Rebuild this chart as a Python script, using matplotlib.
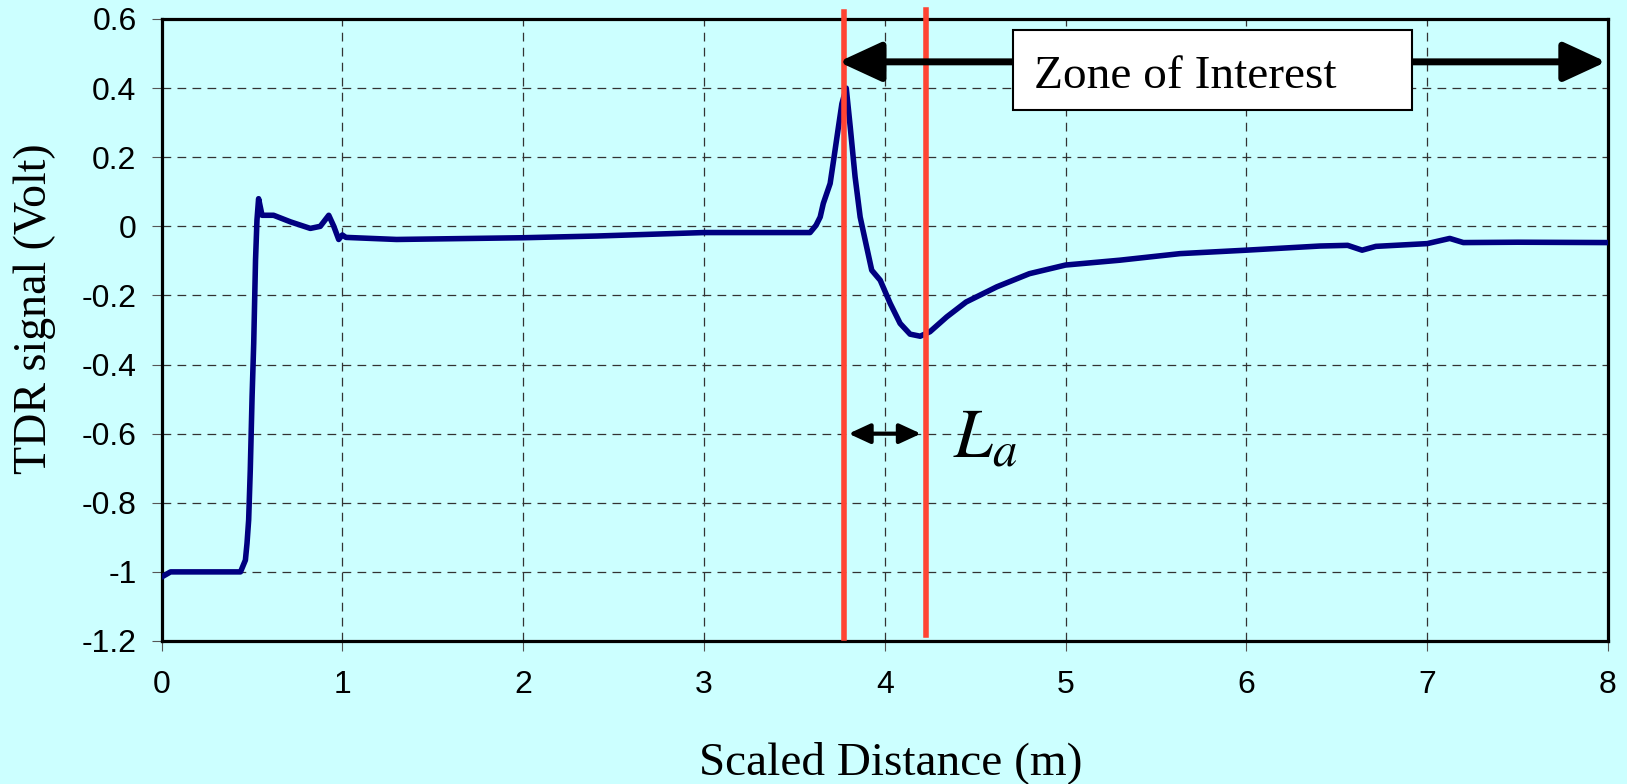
"""
TDR signal along the scaled distance, with the zone of interest marked
"""

import matplotlib
matplotlib.use("Agg")
import matplotlib.pyplot as plt
from matplotlib.patches import Rectangle

# Data
distance = [0.0, 0.05, 0.2, 0.3, 0.437, 0.464, 0.473, 0.482, 0.491, 0.501,
            0.51, 0.52, 0.528, 0.537, 0.556, 0.62, 0.713, 0.823, 0.878, 0.925,
            0.953, 0.98, 1.0, 1.02, 1.3, 2.0, 2.41, 3.0, 3.33, 3.587,
            3.62, 3.643, 3.66, 3.698, 3.717, 3.744, 3.763, 3.787, 3.809, 3.836,
            3.864, 3.90, 3.928, 3.975, 4.03, 4.085, 4.14, 4.196, 4.25, 4.343,
            4.45, 4.62, 4.80, 5.0, 5.30, 5.633, 6.0, 6.407, 6.56, 6.60,
            6.64, 6.716, 7.0, 7.125, 7.20, 7.5, 8.0]
signal = [-1.015, -1.0, -1.0, -1.0, -1.0, -0.966, -0.917, -0.85, -0.705, -0.493,
          -0.339, -0.098, 0.018, 0.08, 0.032, 0.032, 0.013, -0.006, 0.0, 0.032,
          0.0, -0.038, -0.025, -0.032, -0.038, -0.033, -0.028, -0.018, -0.018, -0.018,
          0.003, 0.027, 0.066, 0.124, 0.191, 0.288, 0.355, 0.40, 0.288, 0.143,
          0.027, -0.06, -0.127, -0.156, -0.223, -0.281, -0.312, -0.318, -0.305, -0.262,
          -0.219, -0.175, -0.137, -0.112, -0.098, -0.079, -0.069, -0.057, -0.055, -0.062,
          -0.069, -0.058, -0.05, -0.035, -0.047, -0.046, -0.047]

x_ticks = [0, 1, 2, 3, 4, 5, 6, 7, 8]
y_ticks = [-1.2, -1.0, -0.8, -0.6, -0.4, -0.2, 0.0, 0.2, 0.4, 0.6]
y_tick_labels = ['-1.2', '-1', '-0.8', '-0.6', '-0.4', '-0.2', '0', '0.2', '0.4', '0.6']

# Boundaries of L_a (red lines) and the zone of interest
zone_lines = [3.775, 4.23]
zone_start = 3.745
zone_end = 7.99

BG = '#CCFFFF'
SERIF = 'Liberation Serif'

plt.rcParams['font.family'] = 'Liberation Sans'
plt.rcParams['mathtext.fontset'] = 'stix'
plt.rcParams['axes.unicode_minus'] = False

W, H = 1627, 784
fig = plt.figure(figsize=(W / 100, H / 100), dpi=100, facecolor=BG)
ax = fig.add_axes([161.5 / W, 1 - 641 / H, (1608 - 161.5) / W, (641 - 19) / H])
ax.set_facecolor(BG)

# Signal curve
ax.plot(distance, signal, color='#000080', linewidth=4, solid_joinstyle='round',
        solid_capstyle='round', zorder=3)

# Red lines slightly past the frame
ax.axvline(zone_lines[0], ymin=0.005, ymax=1.0105, color='#FF4433', linewidth=4,
           clip_on=False, zorder=4)
ax.axvline(zone_lines[1], ymin=0.0096, ymax=1.0138, color='#FF4433', linewidth=4,
           clip_on=False, zorder=4)

# Zone of interest arrow + box
ax.annotate('', xy=(zone_start, 0.476), xytext=(zone_end, 0.476),
            arrowprops=dict(arrowstyle='<|-|>,head_length=1.3,head_width=0.6',
                            mutation_scale=20, linewidth=5, color='black',
                            shrinkA=0, shrinkB=0),
            annotation_clip=False, zorder=5)
ax.add_patch(Rectangle((4.712, 0.338), 6.918 - 4.712, 0.567 - 0.338,
                       facecolor='white', edgecolor='black', linewidth=1.5, zorder=6))
ax.text(4.826, 0.40, 'Zone of Interest', fontsize=34, family=SERIF,
        ha='left', va='baseline', zorder=7)

# L_a arrow
ax.annotate('', xy=(3.80, -0.6), xytext=(4.20, -0.6),
            arrowprops=dict(arrowstyle='<|-|>,head_length=0.65,head_width=0.3',
                            mutation_scale=20, linewidth=3, color='black',
                            shrinkA=0, shrinkB=0), zorder=5)
ax.text(4.38, -0.667, r'$L_a$', fontsize=50, ha='left', va='baseline', zorder=5)

# Axes
ax.set_xlim(0, 8)
ax.set_ylim(-1.2, 0.6)
ax.set_xticks(x_ticks)
ax.set_xticklabels([str(t) for t in x_ticks])
ax.set_yticks(y_ticks)
ax.set_yticklabels(y_tick_labels)
ax.grid(True, linestyle=(0, (7, 5)), color='#333333', linewidth=0.9)
ax.set_axisbelow(True)
for spine in ax.spines.values():
    spine.set_linewidth(2.3)
    spine.set_color('black')
ax.tick_params(direction='out', length=7, width=0.8, color='#555555', labelsize=23)
ax.tick_params(axis='x', pad=14)
ax.tick_params(axis='y', pad=11)

ax.set_xlabel('Scaled Distance (m)', fontsize=34, family=SERIF)
ax.xaxis.label.set_va('baseline')
ax.xaxis.set_label_coords(0.504, -0.2138)
ax.set_ylabel('TDR signal (Volt)', fontsize=33, family=SERIF)
ax.yaxis.label.set_va('center')
ax.yaxis.set_label_coords(-0.0875, 0.535)

fig.savefig('out.png', dpi=100, facecolor=BG)
plt.close(fig)
